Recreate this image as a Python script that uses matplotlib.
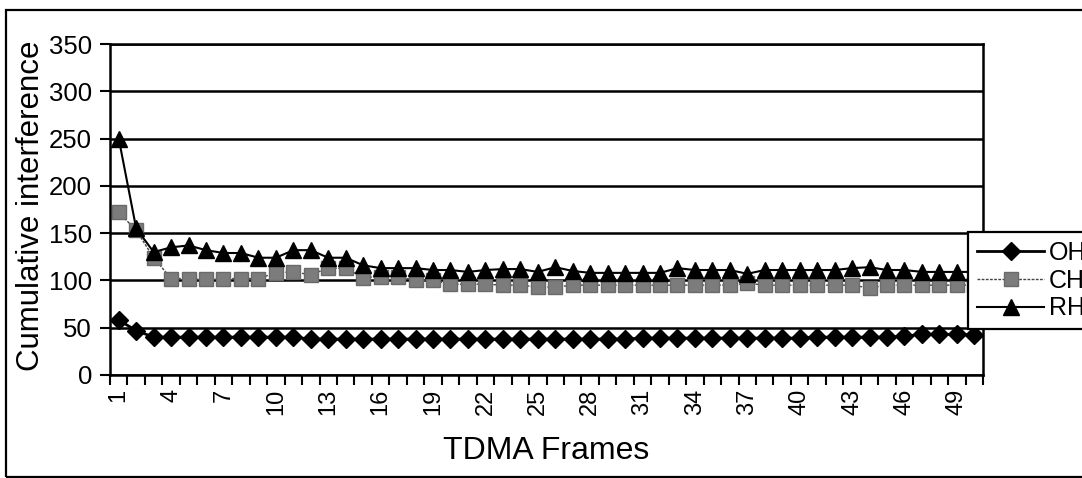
import matplotlib
matplotlib.use("Agg")
import matplotlib.pyplot as plt
from matplotlib.patches import Rectangle
import numpy as np

# Cumulative interference per TDMA frame for the three schemes
frames = list(range(1, 51))
oh = [58, 47, 40, 40, 40, 40, 40, 40, 40, 40, 40, 38, 38, 38, 38, 38, 38, 38, 38, 38,
      38, 38, 38, 38, 38, 38, 38, 38, 38, 38, 39, 39, 39, 39, 39, 39, 39, 39, 39, 39,
      40, 40, 40, 40, 40, 41, 43, 43, 43, 42]
ch = [172, 153, 124, 102, 102, 102, 102, 102, 102, 108, 109, 106, 113, 113, 103, 104, 104, 100, 100, 96,
      96, 96, 95, 95, 93, 93, 95, 95, 95, 95, 95, 95, 95, 95, 95, 95, 97, 95, 95, 95,
      95, 95, 95, 92, 95, 95, 95, 95, 95, 95]
rh = [250, 155, 130, 135, 137, 132, 129, 129, 124, 124, 132, 132, 124, 124, 116, 113, 113, 113, 111, 111,
      109, 111, 112, 112, 109, 114, 110, 108, 108, 108, 108, 108, 113, 111, 111, 111, 107, 111, 111, 111,
      111, 111, 113, 114, 111, 111, 109, 109, 109, 109]
series_names = ["OH", "CH", "RH"]
y_ticks = [0, 50, 100, 150, 200, 250, 300, 350]
x_label = "TDMA Frames"
y_label = "Cumulative interference"

plt.rcParams["font.family"] = ["Liberation Sans", "DejaVu Sans"]

W, H = 1082, 478
fig = plt.figure(figsize=(W / 100, H / 100), dpi=100)
ax = fig.add_axes([110 / W, 1 - 375 / H, (983 - 110) / W, (375 - 44) / H])

# outer chart-area frame
fig.patches.append(Rectangle((6 / W, 1 - 477 / H), 1.2, (477 - 10) / H,
                             transform=fig.transFigure, fill=False,
                             edgecolor="black", linewidth=1.6, zorder=0))

x = np.arange(len(frames))
ax.plot(x, oh, color="black", linewidth=2.0, marker="D", markersize=9.5,
        markerfacecolor="black", markeredgecolor="black", label=series_names[0], zorder=3)
ax.plot(x, ch, color="#444444", linewidth=1.0, linestyle=(0, (2, 1)), marker="s",
        markersize=10.5, markerfacecolor="#7c7c7c", markeredgecolor="#6a6a6a",
        label=series_names[1], zorder=2)
ax.plot(x, rh, color="black", linewidth=1.5, marker="^", markersize=11,
        markerfacecolor="black", markeredgecolor="black", label=series_names[2], zorder=4)

ax.set_xlim(-0.5, len(frames) - 0.5)
ax.set_ylim(0, 350)
ax.set_yticks(y_ticks)
ax.set_yticklabels([str(v) for v in y_ticks], fontsize=18.5)
ax.yaxis.grid(True, color="black", linewidth=1.8)
ax.set_axisbelow(True)

# category boundaries carry the tick marks, every third category is labelled
ax.set_xticks(np.arange(len(frames) + 1) - 0.5)
ax.set_xticklabels([])
ax.set_xticks(x[::3], minor=True)
ax.set_xticklabels([str(frames[i]) for i in x[::3]], minor=True, rotation=90,
                   fontsize=17)
ax.tick_params(axis="x", which="major", direction="out", length=7, width=1.5)
ax.tick_params(axis="x", which="minor", length=0, pad=10)
ax.tick_params(axis="y", direction="out", length=7, width=1.5, pad=6)

for side in ["left", "bottom", "right", "top"]:
    ax.spines[side].set_linewidth(1.8)
    ax.spines[side].set_color("black")

ax.set_xlabel(x_label, fontsize=23, labelpad=15)
ax.set_ylabel(y_label, fontsize=22.5, labelpad=0)
ax.yaxis.set_label_coords(-(110 - 46) / (983 - 110), 1 - (206 - 44) / (375 - 44))

leg = ax.legend(loc="upper left", bbox_to_anchor=(968 / W, 1 - 232 / H),
                bbox_transform=fig.transFigure, fontsize=18, frameon=True,
                fancybox=False, edgecolor="black", framealpha=1, borderpad=0.35,
                handlelength=2.7, handletextpad=0.2, labelspacing=0.15,
                borderaxespad=0)
leg.get_frame().set_linewidth(1.6)
leg.set_zorder(10)

fig.savefig("out.png", dpi=100)
